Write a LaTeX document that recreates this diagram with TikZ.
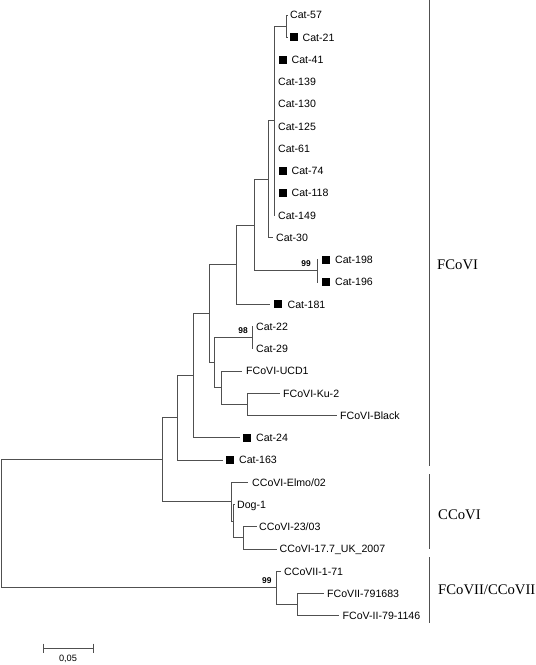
\documentclass[tikz,border=0pt]{standalone}
\usepackage{fontspec}
\setmainfont{Liberation Serif}
\setsansfont{Liberation Sans}
\definecolor{brc}{HTML}{505050}
\tikzset{
  br/.style={draw=brc, line width=1pt},
  grpbar/.style={draw=brc, line width=1pt},
  leaf/.style={font=\sffamily\fontsize{10.6}{12}\selectfont, anchor=base west, inner sep=0pt},
  mk/.style={fill=black, draw=none, minimum size=8pt, inner sep=0pt, anchor=west},
  boot/.style={font=\sffamily\bfseries\fontsize{8.4}{9}\selectfont, anchor=base east, inner sep=0pt},
  grp/.style={font=\fontsize{14.7}{16}\selectfont, anchor=west, inner sep=0pt},
  sclab/.style={font=\sffamily\fontsize{9.2}{10}\selectfont, inner sep=0pt},
}
\begin{document}
\begin{tikzpicture}[x=1pt,y=-1pt]
\useasboundingbox (0,0) rectangle (536,665);
% tips
\coordinate (t0) at (287.5,15);
\coordinate (t1) at (287.5,37.25);
\coordinate (t2) at (275,59.5);
\coordinate (t3) at (275,81.75);
\coordinate (t4) at (275,104);
\coordinate (t5) at (275,126.25);
\coordinate (t6) at (275,148.5);
\coordinate (t7) at (275,170.75);
\coordinate (t8) at (275,193);
\coordinate (t9) at (275,215.25);
\coordinate (t10) at (273,237.5);
\coordinate (t11) at (318,259.75);
\coordinate (t12) at (318,282);
\coordinate (t13) at (270,304.25);
\coordinate (t14) at (253,326.5);
\coordinate (t15) at (253,348.75);
\coordinate (t16) at (242,371);
\coordinate (t17) at (280,393.25);
\coordinate (t18) at (337,415.5);
\coordinate (t19) at (240,437.75);
\coordinate (t20) at (223,460);
\coordinate (t21) at (248,482.25);
\coordinate (t22) at (235,504.5);
\coordinate (t23) at (256.5,526.75);
\coordinate (t24) at (277,549);
\coordinate (t25) at (281,571.25);
\coordinate (t26) at (324,593.5);
\coordinate (t27) at (339,615.75);
% internal nodes
\coordinate (na) at (286,26.1);
\coordinate (nb) at (274,120.7);
\coordinate (nc) at (268,179.1);
\coordinate (nd) at (317,270.9);
\coordinate (ne) at (254,225);
\coordinate (nf) at (236,264.6);
\coordinate (ng) at (252,337.6);
\coordinate (nh) at (247,404.4);
\coordinate (ni) at (221,387.7);
\coordinate (nj) at (214,362.7);
\coordinate (nk) at (209,313.6);
\coordinate (nl) at (193,375.7);
\coordinate (nm) at (177,417.8);
\coordinate (nn) at (243,537.9);
\coordinate (no) at (233,521.2);
\coordinate (np) at (231,501.7);
\coordinate (nq) at (162,459.8);
\coordinate (nr) at (297,604.6);
\coordinate (ns) at (276,587.9);
\coordinate (root) at (1,523.9);
% branches
\draw[br] (na) |- (t0) (na) |- (t1);
\draw[br] (nb) |- (na);
\foreach \t in {2,...,9} {\draw[br] (nb) |- (t\t);}
\draw[br] (nc) |- (nb) (nc) |- (t10);
\draw[br] (nd) |- (t11) (nd) |- (t12);
\draw[br] (ne) |- (nc) (ne) |- (nd);
\draw[br] (nf) |- (ne) (nf) |- (t13);
\draw[br] (ng) |- (t14) (ng) |- (t15);
\draw[br] (nh) |- (t17) (nh) |- (t18);
\draw[br] (ni) |- (t16) (ni) |- (nh);
\draw[br] (nj) |- (ng) (nj) |- (ni);
\draw[br] (nk) |- (nf) (nk) |- (nj);
\draw[br] (nl) |- (nk) (nl) |- (t19);
\draw[br] (nm) |- (nl) (nm) |- (t20);
\draw[br] (nn) |- (t23) (nn) |- (t24);
\draw[br] (no) |- (t22) (no) |- (nn);
\draw[br] (np) |- (t21) (np) |- (no);
\draw[br] (nq) |- (nm) (nq) |- (np);
\draw[br] (nr) |- (t26) (nr) |- (t27);
\draw[br] (ns) |- (t25) (ns) |- (nr);
\draw[br] (root) |- (nq) (root) |- (ns);
% markers
\node[mk] (m1) at ([xshift=2.5pt]t1) {};
\node[mk] (m2) at ([xshift=4pt]t2) {};
\node[mk] (m7) at ([xshift=4pt]t7) {};
\node[mk] (m8) at ([xshift=4pt]t8) {};
\node[mk] (m11) at ([xshift=4pt]t11) {};
\node[mk] (m12) at ([xshift=4pt]t12) {};
\node[mk] (m13) at ([xshift=4pt]t13) {};
\node[mk] (m19) at ([xshift=3pt]t19) {};
\node[mk] (m20) at ([xshift=3pt]t20) {};
% leaf labels
\node[leaf] (l0) at ([xshift=2.5pt,yshift=-3.8pt]t0) {Cat-57};
\node[leaf] (l1) at ([xshift=4pt,yshift=-3.8pt]m1.east) {Cat-21};
\node[leaf] (l2) at ([xshift=4pt,yshift=-3.8pt]m2.east) {Cat-41};
\node[leaf] (l3) at ([xshift=3pt,yshift=-3.8pt]t3) {Cat-139};
\node[leaf] (l4) at ([xshift=3pt,yshift=-3.8pt]t4) {Cat-130};
\node[leaf] (l5) at ([xshift=3pt,yshift=-3.8pt]t5) {Cat-125};
\node[leaf] (l6) at ([xshift=3pt,yshift=-3.8pt]t6) {Cat-61};
\node[leaf] (l7) at ([xshift=4pt,yshift=-3.8pt]m7.east) {Cat-74};
\node[leaf] (l8) at ([xshift=4pt,yshift=-3.8pt]m8.east) {Cat-118};
\node[leaf] (l9) at ([xshift=3pt,yshift=-3.8pt]t9) {Cat-149};
\node[leaf] (l10) at ([xshift=3pt,yshift=-3.8pt]t10) {Cat-30};
\node[leaf] (l11) at ([xshift=4.5pt,yshift=-3.8pt]m11.east) {Cat-198};
\node[leaf] (l12) at ([xshift=4.5pt,yshift=-3.8pt]m12.east) {Cat-196};
\node[leaf] (l13) at ([xshift=5pt,yshift=-3.8pt]m13.east) {Cat-181};
\node[leaf] (l14) at ([xshift=3pt,yshift=-3.8pt]t14) {Cat-22};
\node[leaf] (l15) at ([xshift=3pt,yshift=-3.8pt]t15) {Cat-29};
\node[leaf] (l16) at ([xshift=4pt,yshift=-3.8pt]t16) {FCoVI-UCD1};
\node[leaf] (l17) at ([xshift=3pt,yshift=-3.8pt]t17) {FCoVI-Ku-2};
\node[leaf] (l18) at ([xshift=3pt,yshift=-3.8pt]t18) {FCoVI-Black};
\node[leaf] (l19) at ([xshift=4.5pt,yshift=-3.8pt]m19.east) {Cat-24};
\node[leaf] (l20) at ([xshift=4.5pt,yshift=-3.8pt]m20.east) {Cat-163};
\node[leaf] (l21) at ([xshift=4pt,yshift=-3.8pt]t21) {CCoVI-Elmo/02};
\node[leaf] (l22) at ([xshift=2pt,yshift=-3.8pt]t22) {Dog-1};
\node[leaf] (l23) at ([xshift=2.5pt,yshift=-3.8pt]t23) {CCoVI-23/03};
\node[leaf] (l24) at ([xshift=2.5pt,yshift=-3.8pt]t24) {CCoVI-17.7\_UK\_2007};
\node[leaf] (l25) at ([xshift=3pt,yshift=-3.8pt]t25) {CCoVII-1-71};
\node[leaf] (l26) at ([xshift=3pt,yshift=-3.8pt]t26) {FCoVII-791683};
\node[leaf] (l27) at ([xshift=3.5pt,yshift=-3.8pt]t27) {FCoV-II-79-1146};
% bootstrap values
\node[boot] (b1) at ([xshift=-6pt,yshift=4pt]nd) {99};
\node[boot] (b2) at ([xshift=-4pt,yshift=4.3pt]ng) {98};
\node[boot] (b3) at ([xshift=-4.3pt,yshift=4pt]ns) {99};
% group bars
\coordinate (g1a) at (429,0);
\coordinate (g1b) at (429,466);
\coordinate (g2a) at (429,474);
\coordinate (g2b) at (429,549);
\coordinate (g3a) at (429,557);
\coordinate (g3b) at (429,623);
\draw[grpbar] (g1a) -- (g1b);
\draw[grpbar] (g2a) -- (g2b);
\draw[grpbar] (g3a) -- (g3b);
\node[grp] (G1) at (437,265) {FCoVI};
\node[grp] (G2) at (438,515) {CCoVI};
\node[grp] (G3) at (438,590) {FCoVII/CCoVII};
% scale bar
\coordinate (s1) at (43,648);
\coordinate (s2) at (93,648);
\draw[br] (s1) -- (s2);
\draw[br] ([yshift=4.5pt]s1) -- ([yshift=-4.5pt]s1);
\draw[br] ([yshift=4.5pt]s2) -- ([yshift=-4.5pt]s2);
\node[sclab] (sl) at (68,659) {0,05};
\end{tikzpicture}
\end{document}
